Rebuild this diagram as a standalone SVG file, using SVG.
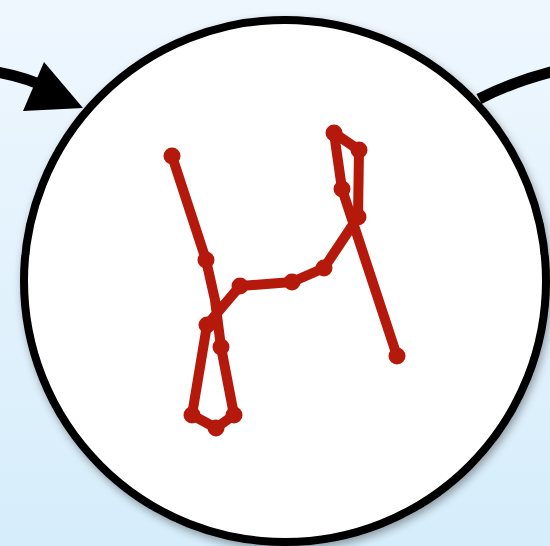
<svg xmlns="http://www.w3.org/2000/svg" width="550" height="546" viewBox="0 0 550 546">
<defs>
<linearGradient id="bg" x1="0" y1="0" x2="0" y2="1">
<stop offset="0" stop-color="#eff7fe"/>
<stop offset="1" stop-color="#d6edfb"/>
</linearGradient>
<filter id="sh" x="-10%" y="-10%" width="120%" height="120%">
<feDropShadow dx="2" dy="4" stdDeviation="4" flood-color="#000" flood-opacity="0.35"/>
</filter>
<style>
.edge{fill:none;stroke:#000;stroke-width:11}
.track{fill:none;stroke:#b5190b;stroke-width:10;stroke-linejoin:round;stroke-linecap:round}
.pt{fill:#b5190b}
</style>
</defs>
<rect width="550" height="546" fill="url(#bg)"/>
<g id="connectors">
<path class="edge" d="M -10 71 Q 25 76 52 90"/>
<polygon points="44,62 23,111 83,108" fill="#000"/>
<path class="edge" d="M 479 99 Q 512 82 555 71"/>
</g>
<g id="node">
<circle cx="285" cy="281" r="261" fill="#fff" stroke="#000" stroke-width="8" filter="url(#sh)"/>
<polyline class="track" points="172,156 206,260 215,300 221,347 234,415 216,428 192,415 207,325 240,286 292,282 324,268 358,217 359,150 334,133 342,189 397,356"/>
<g>
<circle class="pt" cx="172" cy="156" r="8.5"/>
<circle class="pt" cx="206" cy="260" r="8.5"/>
<circle class="pt" cx="221" cy="347" r="8.5"/>
<circle class="pt" cx="234" cy="415" r="8.5"/>
<circle class="pt" cx="216" cy="428" r="8.5"/>
<circle class="pt" cx="192" cy="415" r="8.5"/>
<circle class="pt" cx="207" cy="325" r="8.5"/>
<circle class="pt" cx="240" cy="286" r="8.5"/>
<circle class="pt" cx="292" cy="282" r="8.5"/>
<circle class="pt" cx="324" cy="268" r="8.5"/>
<circle class="pt" cx="358" cy="217" r="8.5"/>
<circle class="pt" cx="359" cy="150" r="8.5"/>
<circle class="pt" cx="334" cy="133" r="8.5"/>
<circle class="pt" cx="342" cy="189" r="8.5"/>
<circle class="pt" cx="397" cy="356" r="8.5"/>
</g>
</g>
</svg>
